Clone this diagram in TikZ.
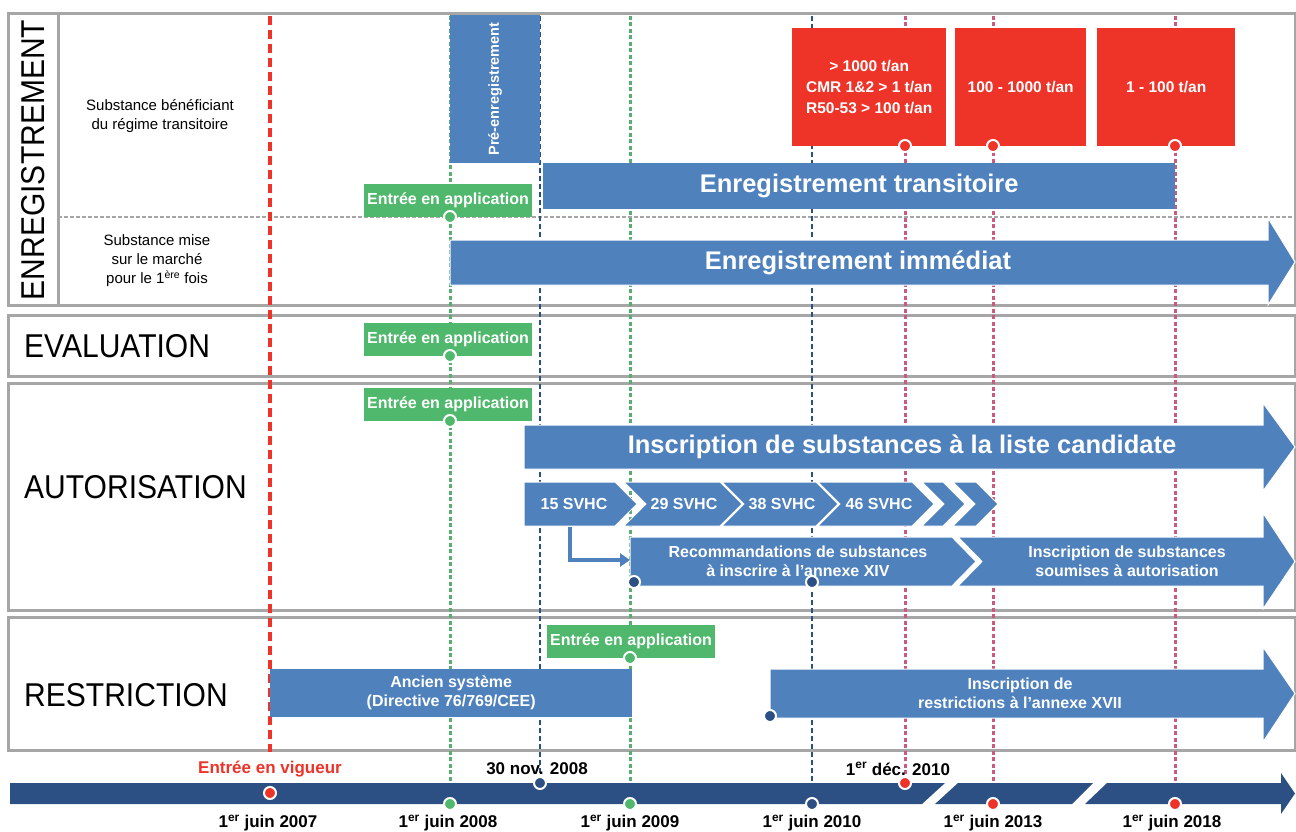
\documentclass[tikz,border=0pt]{standalone}
\usepackage{fontspec}
\setmainfont{Liberation Sans}
\newfontfamily\titlefont[FakeStretch=0.91]{Liberation Sans}
\usetikzlibrary{arrows.meta}

\definecolor{boxblue}{HTML}{4F81BD}
\definecolor{appgreen}{HTML}{50B86C}
\definecolor{phasered}{HTML}{EE3329}
\definecolor{timenavy}{HTML}{2C4F84}
\definecolor{panelgray}{HTML}{A6A6A6}
\definecolor{datepink}{HTML}{D8557C}

\tikzset{
  panel/.style={draw=panelgray, line width=3pt},
  paneltitle/.style={font=\titlefont\fontsize{33}{36}\selectfont, inner sep=0pt},
  rowlabel/.style={font=\fontsize{15}{19}\selectfont, align=center, inner sep=0pt},
  boxlabel/.style={text=white, font=\bfseries\fontsize{16}{19}\selectfont, align=center, inner sep=0pt},
  biglabel/.style={text=white, font=\bfseries\fontsize{25.5}{28}\selectfont, inner sep=0pt},
  bluebox/.style={fill=boxblue, boxlabel},
  greenbox/.style={fill=appgreen, boxlabel, minimum width=168pt, minimum height=33pt, anchor=south},
  redbox/.style={fill=phasered, text=white, font=\bfseries\fontsize{15.5}{21}\selectfont, align=center,
    inner sep=0pt, minimum height=118pt, anchor=north west},
  milestone/.style={circle, draw=white, line width=2pt, minimum size=12pt, inner sep=0pt},
  dateline/.style={line width=3pt, dash pattern=on 4pt off 2.5pt},
  datelabel/.style={font=\bfseries\fontsize{17}{20}\selectfont, inner sep=0pt},
  shapefill/.style={fill=boxblue, draw=white, line width=1pt}
}

\begin{document}
\begin{tikzpicture}[x=1pt, y=-1pt]
\useasboundingbox (0,0) rectangle (1296,832);

% panneaux
\draw[panel] (8,14) rectangle (1295,305);
\draw[panel] (58,14) -- (58,305);
\draw[panel] (8,315) rectangle (1295,376);
\draw[panel] (8,383) rectangle (1295,610);
\draw[panel] (8,617) rectangle (1295,750);
\draw[panelgray, line width=1.5pt, dash pattern=on 4pt off 2pt] (58,217) -- (1295,217);

\node[paneltitle, rotate=90] (enreg) at (33,160) {ENREGISTREMENT};
\node[paneltitle, anchor=west] (evalu) at (24,346) {EVALUATION};
\node[paneltitle, anchor=west] (autor) at (24,487) {AUTORISATION};
\node[paneltitle, anchor=west] (restr) at (24,695) {RESTRICTION};

\node[rowlabel] (transrow) at (160,116) {Substance bénéficiant\\du régime transitoire};
\node[rowlabel] (newrow) at (157,261) {Substance mise\\sur le marché\\pour le 1\textsuperscript{ère} fois};

% lignes des dates
\draw[phasered, line width=3.5pt, dash pattern=on 9pt off 5pt] (270,16) -- (270,752);
\foreach \x in {450,630}
  \draw[dateline, appgreen!80!gray] (\x,16) -- (\x,790);
\foreach \x in {540,812}
  \draw[dateline, timenavy, line width=1.8pt, dash pattern=on 5pt off 3pt] (\x,16) -- (\x,790);
\foreach \x in {905,993,1175}
  \draw[dateline, datepink!85!gray] (\x,16) -- (\x,790);

% enregistrement
\node[bluebox, rotate=90, minimum width=148pt, minimum height=90pt,
  font=\bfseries\fontsize{14.5}{17}\selectfont] (preenr) at (495,89) {Pré-enregistrement};
\node[bluebox, biglabel, minimum width=632pt, minimum height=46pt, anchor=north west] (transit) at (543,163) {Enregistrement transitoire};

\node[redbox, minimum width=154pt] (tonnage1) at (792,28) {> 1000 t/an\\CMR 1\&2 > 1 t/an\\R50-53 > 100 t/an};
\node[redbox, minimum width=131pt] (tonnage2) at (955,28) {100 - 1000 t/an};
\node[redbox, minimum width=138pt] (tonnage3) at (1097,28) {1 - 100 t/an};
\node[milestone, fill=phasered] (m1) at (905,146) {};
\node[milestone, fill=phasered] (m2) at (993,146) {};
\node[milestone, fill=phasered] (m3) at (1175,146) {};

\node[greenbox] (appenreg) at (448,217) {Entrée en application};
\node[milestone, fill=appgreen] (appenregdot) at (450,217) {};

\fill[shapefill] (450,240) -- (1268,240) -- (1268,218) -- (1295,262) -- (1268,305) -- (1268,285) -- (450,285) -- cycle;
\node[biglabel] (immed) at (858,263) {Enregistrement immédiat};

% evaluation
\node[greenbox] (appeval) at (448,356) {Entrée en application};
\node[milestone, fill=appgreen] (appevaldot) at (450,356) {};

% autorisation
\node[greenbox] (appauto) at (448,421) {Entrée en application};
\node[milestone, fill=appgreen] (appautodot) at (450,421) {};

\fill[shapefill] (524,425) -- (1263,425) -- (1263,403) -- (1295,447) -- (1263,491) -- (1263,469) -- (524,469) -- cycle;
\node[biglabel] (cand) at (902,447) {Inscription de substances à la liste candidate};

\fill[shapefill] (524,482) -- (615,482) -- (637,504) -- (615,526) -- (524,526) -- cycle;
\foreach \l/\r in {624/720, 722/816, 818/912, 922/943, 953/976}
  \fill[shapefill] (\l,482) -- (\r,482) -- (\r+22,504) -- (\r,526) -- (\l,526) -- (\l+22,504) -- cycle;
\node[boxlabel] (svhc15) at (574,504) {15 SVHC};
\node[boxlabel] (svhc29) at (684,504) {29 SVHC};
\node[boxlabel] (svhc38) at (782,504) {38 SVHC};
\node[boxlabel] (svhc46) at (879,504) {46 SVHC};

\fill[shapefill] (630,537) -- (952,537) -- (976,561.5) -- (952,586) -- (630,586) -- cycle;
\node[boxlabel] (recom) at (798,561) {Recommandations de substances\\à inscrire à l’annexe XIV};
\fill[shapefill] (958,537) -- (1263,537) -- (1263,513) -- (1295,561.5) -- (1263,609) -- (1263,586) -- (958,586) -- (982,561.5) -- cycle;
\node[boxlabel] (soumis) at (1127,561) {Inscription de substances\\soumises à autorisation};

\coordinate (from15) at (570,527);
\coordinate (recomin) at (630,560);
\draw[boxblue, line width=4pt, -{Triangle[length=10pt,width=13pt]}] (from15) |- (recomin);

\node[milestone, fill=timenavy] (recdot1) at (634,582) {};
\node[milestone, fill=timenavy] (recdot2) at (812,582) {};

% restriction
\node[greenbox] (apprestr) at (631,658) {Entrée en application};
\node[milestone, fill=appgreen] (apprestrdot) at (630,658) {};

\node[bluebox, minimum width=362pt, minimum height=48pt, anchor=north west] (ancien) at (270,669) {Ancien système\\(Directive 76/769/CEE)};

\fill[shapefill] (770,669) -- (1263,669) -- (1263,647) -- (1295,693.5) -- (1263,742) -- (1263,718) -- (770,718) -- cycle;
\node[boxlabel] (annexe) at (1020,693) {Inscription de\\restrictions à l’annexe XVII};
\node[milestone, fill=timenavy] (restrdot) at (770,716) {};

% frise
\fill[timenavy] (10,783) -- (945,783) -- (922,804) -- (10,804) -- cycle;
\fill[timenavy] (958,783) -- (1093,783) -- (1072,804) -- (935,804) -- cycle;
\fill[timenavy] (1107,783) -- (1281,783) -- (1281,773) -- (1295,793.5) -- (1281,814) -- (1281,804) -- (1085,804) -- cycle;

\node[milestone, fill=phasered] (d2007) at (270,793) {};
\node[milestone, fill=appgreen] (d2008) at (450,804) {};
\node[milestone, fill=timenavy] (dnov) at (540,783) {};
\node[milestone, fill=appgreen] (d2009) at (630,804) {};
\node[milestone, fill=timenavy] (d2010) at (812,804) {};
\node[milestone, fill=phasered] (ddec) at (905,783) {};
\node[milestone, fill=phasered] (d2013) at (993,804) {};
\node[milestone, fill=phasered] (d2018) at (1175,804) {};

\node[datelabel, text=phasered] (vigueur) at (270,769) {Entrée en vigueur};
\node[datelabel] (lnov) at (537,769) {30 nov. 2008};
\node[datelabel] (ldec) at (898,769) {1\textsuperscript{er} déc. 2010};
\node[datelabel] (l2007) at (268,823) {1\textsuperscript{er} juin 2007};
\node[datelabel] (l2008) at (448,823) {1\textsuperscript{er} juin 2008};
\node[datelabel] (l2009) at (630,823) {1\textsuperscript{er} juin 2009};
\node[datelabel] (l2010) at (812,823) {1\textsuperscript{er} juin 2010};
\node[datelabel] (l2013) at (993,823) {1\textsuperscript{er} juin 2013};
\node[datelabel] (l2018) at (1172,823) {1\textsuperscript{er} juin 2018};
\end{tikzpicture}
\end{document}
